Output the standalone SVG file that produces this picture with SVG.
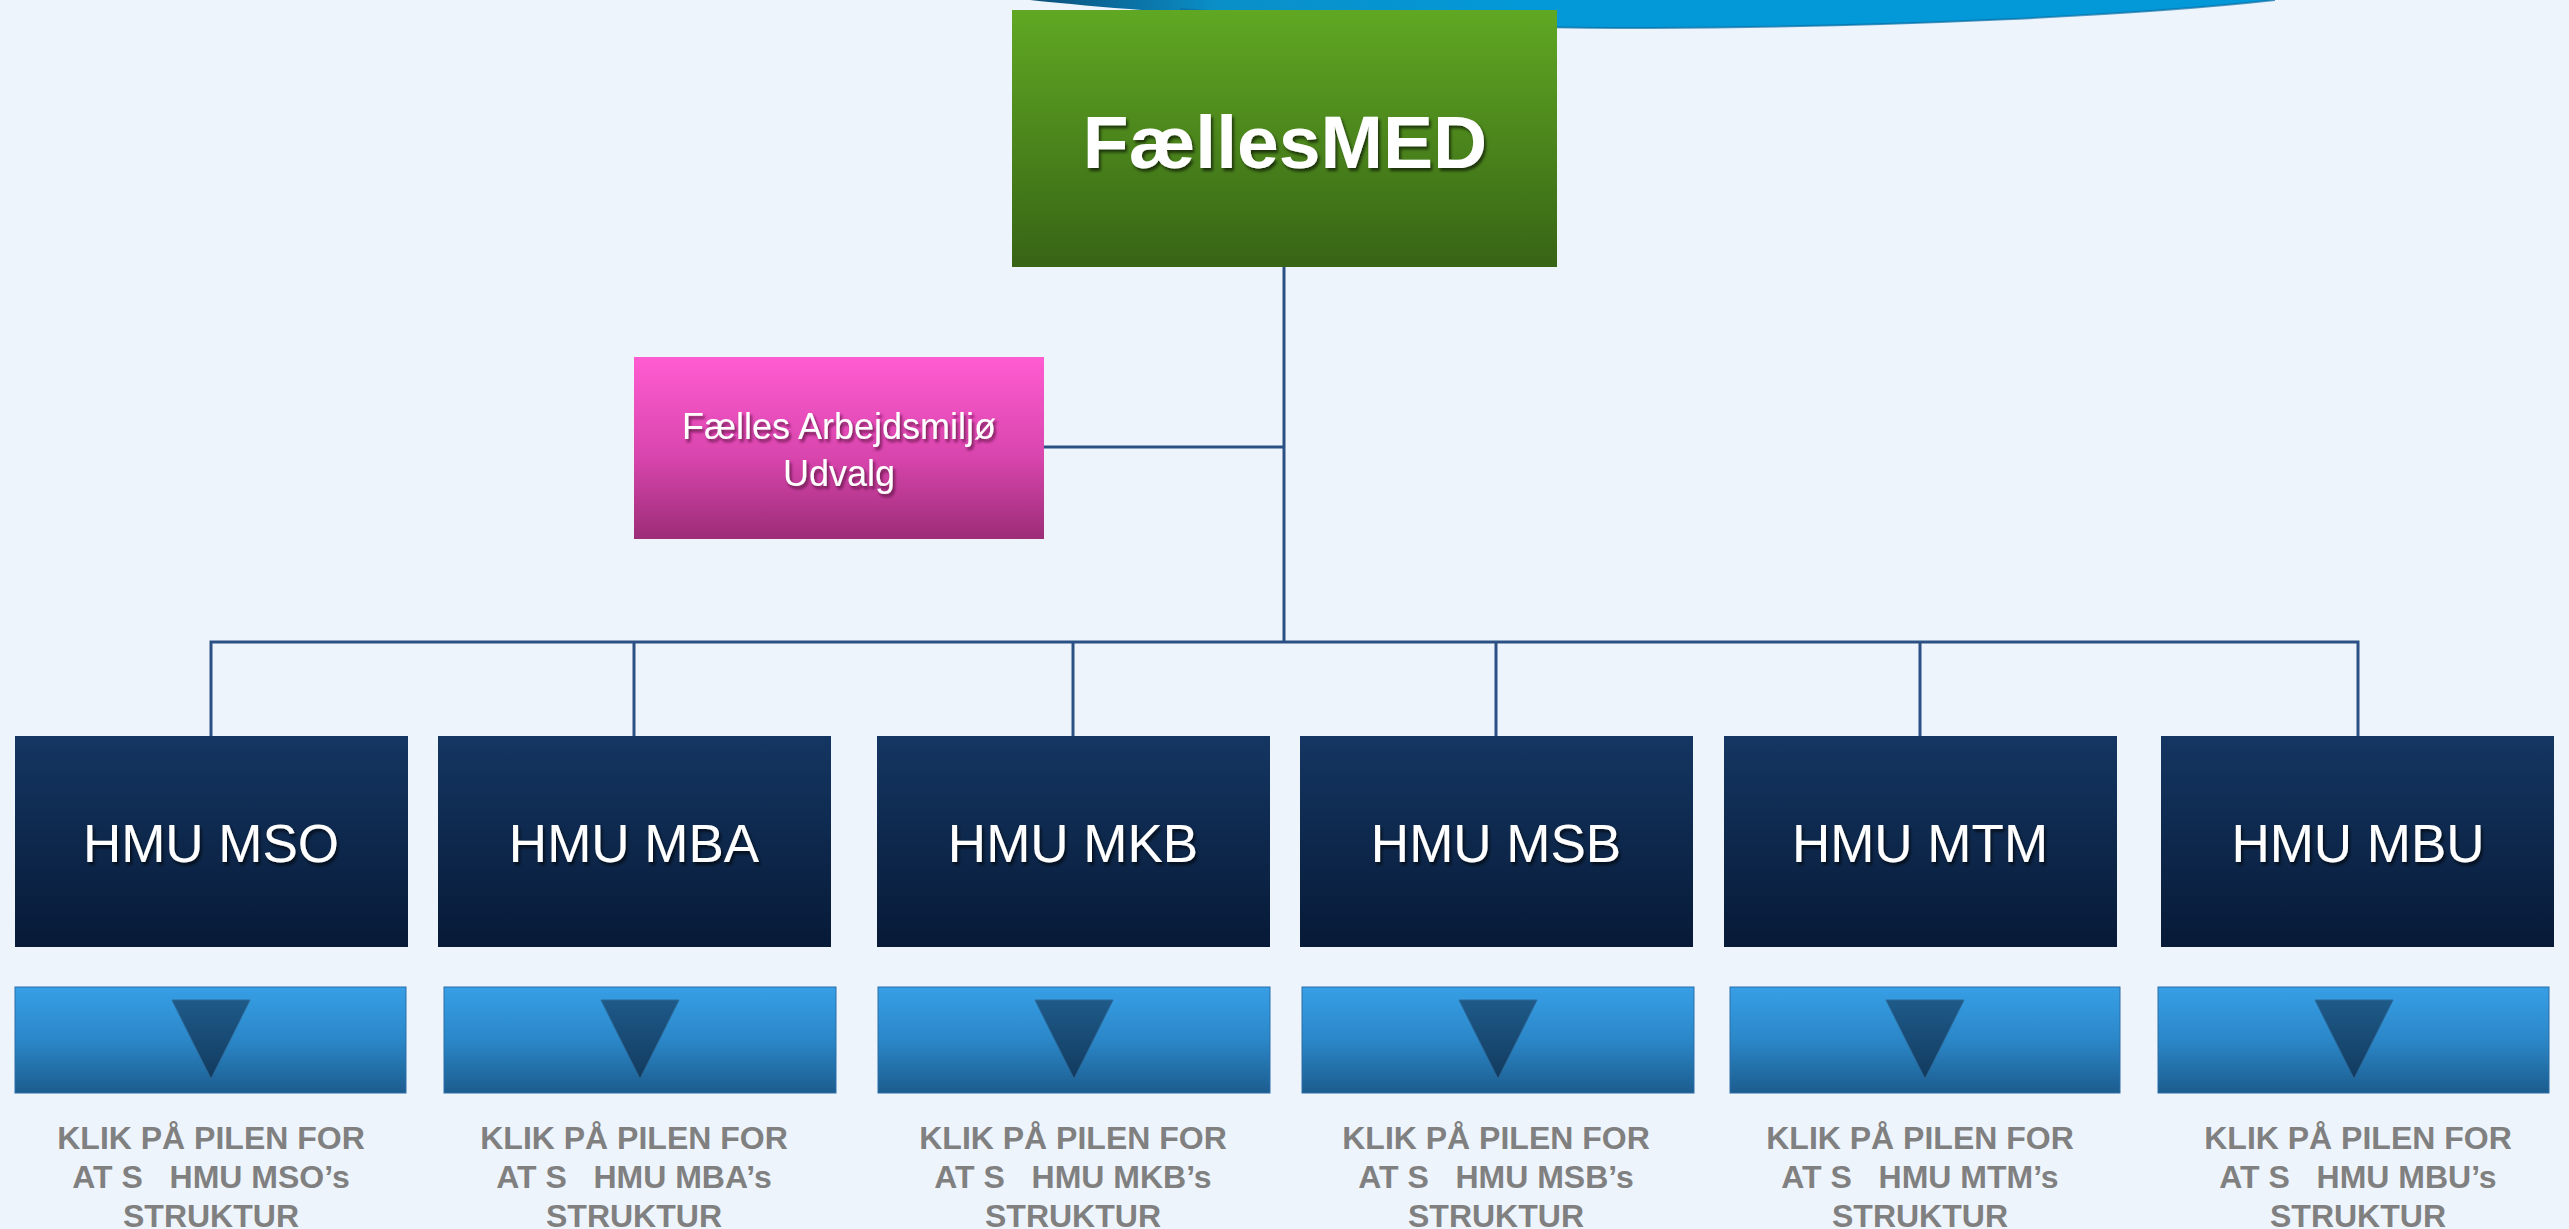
<svg xmlns="http://www.w3.org/2000/svg" width="2569" height="1229" viewBox="0 0 2569 1229">
<defs>
<linearGradient id="gGreen" x1="0" y1="0" x2="0" y2="1"><stop offset="0" stop-color="#60a823"/><stop offset="1" stop-color="#376415"/></linearGradient>
<linearGradient id="gPink" x1="0" y1="0" x2="0" y2="1"><stop offset="0" stop-color="#ff5cd1"/><stop offset="0.55" stop-color="#d845ad"/><stop offset="1" stop-color="#9c2d77"/></linearGradient>
<linearGradient id="gNavy" x1="0" y1="0" x2="0" y2="1"><stop offset="0" stop-color="#143662"/><stop offset="1" stop-color="#071a37"/></linearGradient>
<linearGradient id="gBlue" x1="0" y1="0" x2="0" y2="1"><stop offset="0" stop-color="#379fe6"/><stop offset="0.5" stop-color="#2b87c8"/><stop offset="1" stop-color="#1c5c8e"/></linearGradient>
<linearGradient id="gTri" x1="0" y1="0" x2="0" y2="1"><stop offset="0" stop-color="#1e5a89"/><stop offset="1" stop-color="#123a5e"/></linearGradient>
<linearGradient id="gSwoosh" x1="0" y1="0" x2="1" y2="0"><stop offset="0" stop-color="#0b4f7a"/><stop offset="0.15" stop-color="#0a8fc8"/><stop offset="0.4" stop-color="#0399d8"/><stop offset="1" stop-color="#0399d8"/></linearGradient>
<filter id="shadow" x="-10%" y="-30%" width="120%" height="160%"><feDropShadow dx="2" dy="3" stdDeviation="1.5" flood-color="#000" flood-opacity="0.6"/></filter>
<filter id="shadowP" x="-10%" y="-30%" width="120%" height="160%"><feDropShadow dx="2" dy="3" stdDeviation="1.5" flood-color="#5a0a40" flood-opacity="0.8"/></filter>
</defs>
<style>
.hmu{fill:url(#gNavy)}
.arrbox{fill:url(#gBlue);stroke:#2a6fa8;stroke-width:1}
.tri{fill:url(#gTri);stroke:#2c6a9a;stroke-width:1}
.hmut{font-family:"Liberation Sans",Arial,sans-serif;font-size:53px;fill:#fff;text-anchor:middle;filter:url(#shadow)}
.klik{font-family:"Liberation Sans",Arial,sans-serif;font-size:32px;font-weight:bold;fill:#808080;text-anchor:middle}
.conn{stroke:#2b5184;stroke-width:3;fill:none}
</style>
<rect width="2569" height="1229" fill="#eef4fc"/>
<path d="M1030 0 C1200 18 1440 29 1650 28 C1900 27 2140 15 2275 0 Z" fill="url(#gSwoosh)"/>
<path d="M1180 9 C1380 24 1500 28 1650 28 C1900 27 2140 15 2275 0" fill="none" stroke="#0a6fa5" stroke-width="2" opacity="0.7"/>

<g id="connectors">
<path class="conn" d="M1284 267 V642"/>
<path class="conn" d="M1044 447 H1284"/>
<path class="conn" d="M211 736 V642 H2358 V736"/>
<path class="conn" d="M634 642 V736 M1073 642 V736 M1496 642 V736 M1920 642 V736"/>
</g>

<g id="node-faellesmed">
<rect x="1012" y="10" width="545" height="257" fill="url(#gGreen)"/>
<text x="1285" y="168" font-family="Liberation Sans, Arial, sans-serif" font-size="75" font-weight="bold" fill="#fff" text-anchor="middle" filter="url(#shadow)">FællesMED</text>
</g>

<g id="node-faelles-amu">
<rect x="634" y="357" width="410" height="182" fill="url(#gPink)"/>
<text font-family="Liberation Sans, Arial, sans-serif" font-size="36" fill="#fff" text-anchor="middle" filter="url(#shadowP)"><tspan x="839" y="439">Fælles Arbejdsmiljø</tspan><tspan x="839" y="486">Udvalg</tspan></text>
</g>

<g id="node-mso">
<rect class="hmu" x="15" y="736" width="393" height="211"/>
<text class="hmut" x="211" y="862">HMU MSO</text>
<rect class="arrbox" x="15" y="987" width="391" height="106"/>
<polygon class="tri" points="172,1000 250,1000 211,1079"/>
<text class="klik" xml:space="preserve"><tspan x="211" y="1149">KLIK PÅ PILEN FOR</tspan><tspan x="211" y="1188">AT S   HMU MSO’s</tspan><tspan x="211" y="1227">STRUKTUR</tspan></text>
</g>

<g id="node-mba">
<rect class="hmu" x="438" y="736" width="393" height="211"/>
<text class="hmut" x="634" y="862">HMU MBA</text>
<rect class="arrbox" x="444" y="987" width="392" height="106"/>
<polygon class="tri" points="601,1000 679,1000 640,1079"/>
<text class="klik" xml:space="preserve"><tspan x="634" y="1149">KLIK PÅ PILEN FOR</tspan><tspan x="634" y="1188">AT S   HMU MBA’s</tspan><tspan x="634" y="1227">STRUKTUR</tspan></text>
</g>

<g id="node-mkb">
<rect class="hmu" x="877" y="736" width="393" height="211"/>
<text class="hmut" x="1073" y="862">HMU MKB</text>
<rect class="arrbox" x="878" y="987" width="392" height="106"/>
<polygon class="tri" points="1035,1000 1113,1000 1074,1079"/>
<text class="klik" xml:space="preserve"><tspan x="1073" y="1149">KLIK PÅ PILEN FOR</tspan><tspan x="1073" y="1188">AT S   HMU MKB’s</tspan><tspan x="1073" y="1227">STRUKTUR</tspan></text>
</g>

<g id="node-msb">
<rect class="hmu" x="1300" y="736" width="393" height="211"/>
<text class="hmut" x="1496" y="862">HMU MSB</text>
<rect class="arrbox" x="1302" y="987" width="392" height="106"/>
<polygon class="tri" points="1459,1000 1537,1000 1498,1079"/>
<text class="klik" xml:space="preserve"><tspan x="1496" y="1149">KLIK PÅ PILEN FOR</tspan><tspan x="1496" y="1188">AT S   HMU MSB’s</tspan><tspan x="1496" y="1227">STRUKTUR</tspan></text>
</g>

<g id="node-mtm">
<rect class="hmu" x="1724" y="736" width="393" height="211"/>
<text class="hmut" x="1920" y="862">HMU MTM</text>
<rect class="arrbox" x="1730" y="987" width="390" height="106"/>
<polygon class="tri" points="1886,1000 1964,1000 1925,1079"/>
<text class="klik" xml:space="preserve"><tspan x="1920" y="1149">KLIK PÅ PILEN FOR</tspan><tspan x="1920" y="1188">AT S   HMU MTM’s</tspan><tspan x="1920" y="1227">STRUKTUR</tspan></text>
</g>

<g id="node-mbu">
<rect class="hmu" x="2161" y="736" width="393" height="211"/>
<text class="hmut" x="2358" y="862">HMU MBU</text>
<rect class="arrbox" x="2158" y="987" width="391" height="106"/>
<polygon class="tri" points="2315,1000 2393,1000 2354,1079"/>
<text class="klik" xml:space="preserve"><tspan x="2358" y="1149">KLIK PÅ PILEN FOR</tspan><tspan x="2358" y="1188">AT S   HMU MBU’s</tspan><tspan x="2358" y="1227">STRUKTUR</tspan></text>
</g>
</svg>
